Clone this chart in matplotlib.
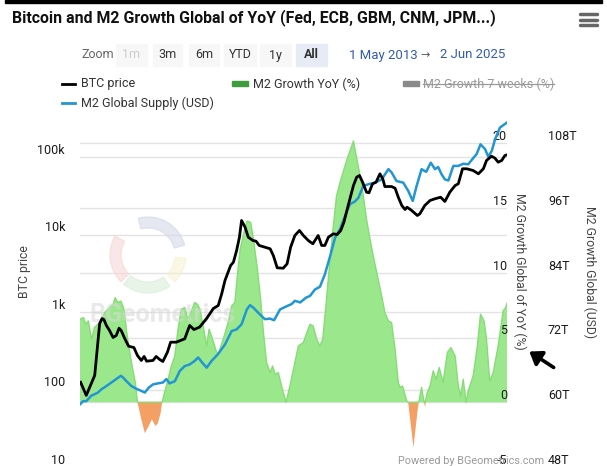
import matplotlib.pyplot as plt
import numpy as np
from matplotlib.patches import Rectangle, Wedge, FancyArrowPatch
from matplotlib.lines import Line2D
from matplotlib.transforms import IdentityTransform, blended_transform_factory

plt.rcParams['font.family'] = ['Roboto', 'DejaVu Sans']

# BTC price (USD) by decimal year
btc_t = [2013.35, 2013.51, 2013.75, 2013.89, 2013.96, 2014.01, 2014.08, 2014.17, 2014.27, 2014.36,
         2014.44, 2014.50, 2014.60, 2014.71, 2014.86, 2014.96, 2015.07, 2015.15, 2015.22, 2015.40,
         2015.49, 2015.59, 2015.68, 2015.81, 2015.90, 2016.06, 2016.30, 2016.44, 2016.56, 2016.72,
         2016.92, 2017.11, 2017.25, 2017.35, 2017.44, 2017.60, 2017.68, 2017.77, 2017.85, 2017.91,
         2018.01, 2018.10, 2018.23, 2018.32, 2018.41, 2018.57, 2018.72, 2018.81, 2018.92, 2019.09,
         2019.20, 2019.30, 2019.42, 2019.55, 2019.66, 2019.80, 2019.93, 2020.08, 2020.18, 2020.27,
         2020.37, 2020.51, 2020.62, 2020.72, 2020.81, 2020.93, 2021.08, 2021.17, 2021.25, 2021.34,
         2021.45, 2021.52, 2021.62, 2021.72, 2021.83, 2021.91, 2021.97, 2022.16, 2022.26, 2022.35,
         2022.45, 2022.54, 2022.60, 2022.73, 2022.89, 2022.96, 2023.10, 2023.25, 2023.39, 2023.55,
         2023.67, 2023.81, 2023.96, 2024.05, 2024.17, 2024.29, 2024.47, 2024.62, 2024.76, 2024.85,
         2024.99, 2025.09, 2025.18, 2025.28, 2025.37, 2025.43]
btc_price = [124, 84, 152, 711, 824, 800, 670, 577, 469, 498,
             618, 577, 455, 362, 348, 275, 237, 267, 232, 237,
             267, 244, 230, 303, 408, 408, 451, 670, 594, 637,
             824, 1110, 1213, 1734, 2549, 3981, 4393, 6223, 9232, 15170,
             12420, 9232, 8370, 8200, 7215, 6860, 6537, 5354, 3716, 3672,
             4186, 6860, 9710, 11270, 9710, 8370, 7590, 9710, 7215, 7215,
             9232, 10200, 10000, 11270, 14430, 23660, 42850, 54830, 57660, 47300,
             35160, 34530, 45080, 47300, 60700, 52330, 41590, 41590, 39540, 30270,
             23660, 21020, 22490, 20400, 17590, 18490, 23660, 27470, 28910, 30270,
             26670, 35160, 42850, 45080, 70470, 70470, 66990, 60700, 70470, 90200,
             102400, 96500, 85700, 90200, 104500, 106700]

# M2 global supply (trillion USD)
m2_t = [2013.33, 2013.42, 2013.51, 2013.65, 2013.75, 2013.84, 2013.94, 2014.08, 2014.22, 2014.36,
        2014.49, 2014.55, 2014.65, 2014.79, 2014.93, 2015.07, 2015.17, 2015.28, 2015.40, 2015.54,
        2015.68, 2015.78, 2015.87, 2016.02, 2016.16, 2016.30, 2016.44, 2016.58, 2016.68, 2016.79,
        2016.92, 2017.06, 2017.24, 2017.44, 2017.63, 2017.77, 2017.91, 2018.06, 2018.15, 2018.24,
        2018.38, 2018.57, 2018.72, 2018.83, 2019.00, 2019.19, 2019.33, 2019.42, 2019.57, 2019.74,
        2019.85, 2019.99, 2020.13, 2020.27, 2020.42, 2020.56, 2020.70, 2020.84, 2020.98, 2021.12,
        2021.22, 2021.36, 2021.50, 2021.69, 2021.88, 2022.07, 2022.16, 2022.30, 2022.49, 2022.63,
        2022.76, 2022.87, 2023.01, 2023.14, 2023.27, 2023.39, 2023.48, 2023.58, 2023.67, 2023.77,
        2023.91, 2024.05, 2024.19, 2024.33, 2024.48, 2024.57, 2024.68, 2024.81, 2024.90, 2025.00,
        2025.09, 2025.23, 2025.42]
m2_usd = [59.6, 60.2, 60.2, 61.2, 61.5, 61.8, 62.4, 63.0, 63.65, 64.3,
          64.9, 64.6, 63.9, 63.0, 62.5, 62.1, 61.8, 62.7, 63.3, 63.5,
          63.65, 64.3, 63.5, 63.9, 65.8, 66.7, 67.0, 67.65, 68.3, 67.4,
          66.4, 67.65, 68.9, 70.7, 73.2, 73.5, 74.45, 77.2, 78.0, 77.55,
          76.6, 75.4, 75.5, 75.2, 77.2, 77.8, 78.2, 78.8, 78.5, 79.4,
          79.7, 80.9, 81.4, 83.7, 87.1, 90.5, 92.1, 94.5, 96.7, 97.2,
          97.9, 100.1, 100.4, 100.7, 101.3, 103.2, 102.6, 101.0, 100.7, 99.2,
          97.3, 100.1, 103.2, 102.7, 104.4, 103.2, 103.6, 102.2, 101.3, 101.1,
          103.8, 103.8, 104.2, 104.1, 105.3, 106.0, 107.8, 106.9, 105.5, 106.6,
          108.7, 110.9, 111.8]

# M2 growth YoY (%)
g_t = [2013.33, 2013.43, 2013.50, 2013.57, 2013.66, 2013.74, 2013.89, 2014.03, 2014.17, 2014.27,
       2014.33, 2014.41, 2014.49, 2014.58, 2014.67, 2014.79, 2014.90, 2014.96, 2015.07, 2015.17,
       2015.28, 2015.37, 2015.47, 2015.54, 2015.62, 2015.66, 2015.73, 2015.83, 2015.92, 2016.02,
       2016.11, 2016.20, 2016.30, 2016.39, 2016.49, 2016.58, 2016.66, 2016.73, 2016.83, 2016.92,
       2016.99, 2017.09, 2017.19, 2017.25, 2017.39, 2017.53, 2017.63, 2017.72, 2017.79, 2017.87,
       2018.01, 2018.07, 2018.17, 2018.26, 2018.36, 2018.45, 2018.53, 2018.62, 2018.72, 2018.79,
       2018.86, 2018.95, 2019.08, 2019.17, 2019.28, 2019.42, 2019.52, 2019.66, 2019.76, 2019.85,
       2019.94, 2020.04, 2020.13, 2020.21, 2020.30, 2020.40, 2020.49, 2020.60, 2020.70, 2020.84,
       2020.93, 2021.00, 2021.08, 2021.15, 2021.27, 2021.36, 2021.45, 2021.55, 2021.64, 2021.76,
       2021.88, 2021.97, 2022.07, 2022.16, 2022.26, 2022.35, 2022.40, 2022.47, 2022.59, 2022.63,
       2022.78, 2022.89, 2022.93, 2023.01, 2023.08, 2023.11, 2023.17, 2023.25, 2023.34, 2023.42,
       2023.51, 2023.62, 2023.74, 2023.84, 2023.96, 2024.05, 2024.12, 2024.19, 2024.27, 2024.33,
       2024.47, 2024.59, 2024.68, 2024.78, 2024.85, 2024.94, 2025.04, 2025.18, 2025.32, 2025.39,
       2025.43]
g_pct = [6.41, 6.54, 6.02, 6.28, 4.86, 5.77, 6.15, 6.93, 7.31, 7.57,
         8.08, 7.70, 7.82, 7.18, 5.12, 3.07, 1.52, 0.0, -1.31, -2.39,
         -1.83, -1.31, -1.83, -1.62, -0.80, 0.0, 0.75, 1.78, 2.80, 3.58,
         5.64, 7.18, 7.31, 6.41, 7.05, 7.70, 7.57, 7.18, 5.77, 4.35,
         5.64, 4.86, 3.96, 3.71, 4.86, 6.15, 7.44, 7.70, 9.75, 11.81,
         13.49, 14.00, 13.88, 12.33, 10.27, 7.95, 5.38, 3.07, 2.29, 2.80,
         2.16, 2.29, 0.87, -0.05, 1.26, 3.07, 4.35, 4.61, 5.38, 6.02,
         5.89, 4.86, 4.35, 4.86, 7.44, 10.53, 13.10, 15.93, 16.97, 18.25,
         19.02, 19.54, 20.18, 19.15, 17.47, 15.93, 14.13, 12.59, 11.31, 9.75,
         8.21, 6.93, 6.28, 6.15, 4.09, 1.52, 1.14, 1.26, 0.10, 0.0,
         -3.50, -0.80, 0.0, 1.14, 0.0, -0.39, 0.75, 1.26, 2.42, 1.78,
         2.68, 1.52, 3.84, 4.22, 3.58, 1.26, 0.49, 1.78, -0.10, 0.87,
         2.03, 4.35, 6.80, 6.28, 4.86, 1.64, 2.29, 4.35, 7.05, 7.31,
         7.64]

btc_ticks = [10, 100, 1000, 10000, 100000]
btc_labels = ['10', '100', '1k', '10k', '100k']
pct_ticks = [-5, 0, 5, 10, 15, 20]
usd_ticks = [48, 60, 72, 84, 96, 108]
usd_labels = ['48T', '60T', '72T', '84T', '96T', '108T']

W, H = 607, 466


def fx(px):
    return px / W


def fy(py):
    return 1 - py / H


fig = plt.figure(figsize=(W / 100, H / 100), dpi=100)
fig.patch.set_facecolor('white')

# plot area: x 80..507 px, y 118..467 px
ax = fig.add_axes([fx(80), fy(467), 427 / W, 349 / H])
axu = ax.twinx()
axb = ax.twinx()
for a, z in [(ax, 1), (axu, 2), (axb, 3)]:
    a.set_zorder(z)
    a.patch.set_visible(False)
    for s in a.spines.values():
        s.set_visible(False)
ax.set_xlim(2013.333, 2025.43)
ax.set_xticks([])

ax.set_ylim(-5, -5 + 349 / 12.95)
axb.set_yscale('log')
axb.set_ylim(10, 10 ** (1 + 349 / 77.5))
axu.set_ylim(48, 48 + 2.4 * 349 / 12.95)

# grid lines (below the area)
grid_c = '#e3e3e3'
for v in pct_ticks:
    ax.axhline(v, color=grid_c, lw=1, zorder=0.5)
tr = blended_transform_factory(ax.transAxes, axb.transData)
for v in btc_ticks:
    ax.add_line(Line2D([0, 1], [v, v], transform=tr, color=grid_c, lw=1, zorder=0.5))

g = np.array(g_pct)
gt = np.array(g_t)
ax.fill_between(gt, g, 0, where=g >= 0, interpolate=True, color='#9be88c', lw=0, zorder=1)
ax.fill_between(gt, g, 0, where=g <= 0, interpolate=True, color='#f4a064', lw=0, zorder=1)
ax.plot(gt, np.maximum(g, 0), color='#86dc76', lw=1, zorder=1.2)

axu.plot(m2_t, m2_usd, color='#2196d3', lw=1.8)
axb.plot(btc_t, btc_price, color='black', lw=2)

# ticks
ax.yaxis.tick_right()
ax.set_yticks(pct_ticks)
ax.set_yticklabels([str(v) for v in pct_ticks])
ax.tick_params(axis='y', length=0, pad=0, labelsize=9, labelcolor='#1a1a1a')
for lab in ax.get_yticklabels():
    lab.set_horizontalalignment('right')
    lab.set_verticalalignment('bottom')

axb.yaxis.tick_left()
axb.set_yticks(btc_ticks)
axb.set_yticklabels(btc_labels)
axb.minorticks_off()
axb.tick_params(axis='y', which='both', length=0, pad=10.8, labelsize=9, labelcolor='#1a1a1a')
for lab in axb.get_yticklabels():
    lab.set_verticalalignment('bottom')

axu.set_yticks(usd_ticks)
axu.set_yticklabels(usd_labels)
axu.tick_params(axis='y', length=0, pad=29.5, labelsize=9, labelcolor='#1a1a1a')
for lab in axu.get_yticklabels():
    lab.set_verticalalignment('bottom')

# axis titles
fig.text(fx(25), fy(272), 'BTC price', rotation=90, ha='center', va='center', fontsize=8.8, color='#444444')
fig.text(fx(520), fy(271), 'M2 Growth Global of YoY (%)', rotation=270, ha='center', va='center',
         fontsize=8.8, color='#444444')
fig.text(fx(590), fy(272), 'M2 Growth Global (USD)', rotation=270, ha='center', va='center',
         fontsize=8.8, color='#444444')

# watermark
fig.text(fx(89), fy(315), 'BGeometrics', fontsize=18, fontweight='bold', color='#d8d8d8', alpha=0.55,
         va='center', zorder=1.5)
cx, cy = 148, H - 255
for a1, a2, col in [(15, 105, '#d5d8e8'), (150, 225, '#f6d6d6'), (-45, -5, '#f7f2d2'), (-130, -55, '#d9eed9')]:
    fig.add_artist(Wedge((cx, cy), 38, a1, a2, width=11, transform=IdentityTransform(),
                         color=col, alpha=0.6, zorder=1.5))

# title and header
fig.add_artist(Rectangle((fx(5), fy(3)), fx(597), 3 / H, transform=fig.transFigure, color='black', zorder=5))
fig.text(fx(12), fy(18), 'Bitcoin and M2 Growth Global of YoY (Fed, ECB, GBM, CNM, JPM...)',
         fontsize=11.4, fontweight='bold', color='#111111', va='center')
for yy in [14, 19.5, 25]:
    fig.add_artist(Line2D([fx(580), fx(597)], [fy(yy), fy(yy)], color='#666666', lw=2.5,
                          solid_capstyle='round'))

fig.text(fx(81), fy(55), 'Zoom', fontsize=9, color='#666666', va='center')
buttons = [('1m', 116, 147), ('3m', 153, 182), ('6m', 189, 219), ('YTD', 224, 256), ('1y', 260, 291),
           ('All', 296, 327)]
for lab, x0, x1 in buttons:
    bg = '#e6ebf5' if lab == 'All' else '#f7f7f7'
    fig.add_artist(Rectangle((fx(x0), fy(66)), (x1 - x0) / W, 22 / H, transform=fig.transFigure,
                             color=bg, zorder=1))
    tc = '#cccccc' if lab == '1m' else '#333333'
    fig.text(fx((x0 + x1) / 2), fy(55), lab, fontsize=9, color=tc, ha='center', va='center',
             fontweight='bold' if lab == 'All' else 'normal', zorder=2)
fig.text(fx(349), fy(55), '1 May 2013', fontsize=9.5, color='#335cad', va='center')
fig.text(fx(425), fy(55), '\u2192', fontsize=8, color='#555555', va='center', ha='center')
fig.text(fx(440), fy(55), '2 Jun 2025', fontsize=9.5, color='#335cad', va='center')

# legend
fig.add_artist(Line2D([fx(62), fx(75)], [fy(84), fy(84)], color='black', lw=2))
fig.text(fx(81), fy(84), 'BTC price', fontsize=9, color='#333333', va='center')
fig.add_artist(Rectangle((fx(232), fy(86)), 16 / W, 5 / H, transform=fig.transFigure, color='#3f9c3f'))
fig.text(fx(253), fy(84), 'M2 Growth YoY (%)', fontsize=9, color='#333333', va='center')
fig.add_artist(Rectangle((fx(403), fy(86)), 16 / W, 5 / H, transform=fig.transFigure, color='#8a8a8a'))
hid = fig.text(fx(423), fy(84), 'M2 Growth 7 weeks (%)', fontsize=9, color='#999999', va='center')
fig.add_artist(Line2D([fx(62), fx(75)], [fy(103), fy(103)], color='#2196d3', lw=2))
fig.text(fx(81), fy(103), 'M2 Global Supply (USD)', fontsize=9, color='#333333', va='center')

fig.canvas.draw()
bb = hid.get_window_extent().transformed(fig.transFigure.inverted())
fig.add_artist(Line2D([bb.x0, bb.x1], [fy(84), fy(84)], color='#999999', lw=0.9))

# footer credit and annotation arrow
fig.text(fx(398), fy(461), 'Powered by BGeometrics.com', fontsize=7.8, color='#999999', va='center', zorder=4)
fig.add_artist(FancyArrowPatch((fx(556), fy(369)), (fx(527), fy(350)), transform=fig.transFigure,
                               arrowstyle='-|>,head_length=7,head_width=5', color='black', lw=2.6,
                               zorder=6))

fig.savefig('out.png', dpi=100)
